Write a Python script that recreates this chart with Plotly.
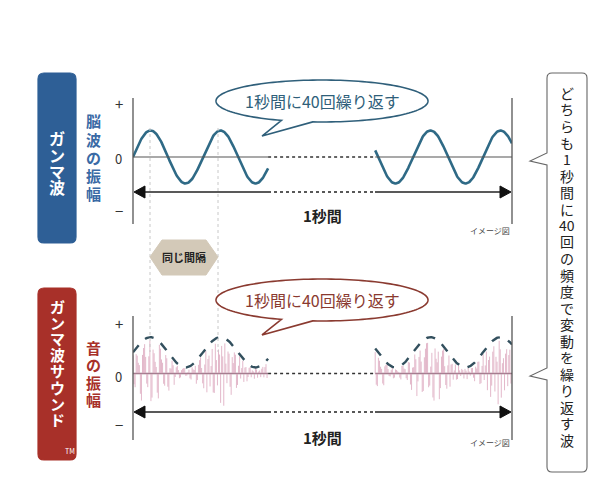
import numpy as np
import plotly.graph_objects as go

W, H = 615, 503
FONT = "Noto Sans CJK JP"

# ---- data ----
seg1 = [0.0, 1.93]          # cycles shown before the gap
seg2 = [3.46, 5.414]        # cycles shown after the gap
brain_amp = 0.5
env_mid, env_amp = 0.42, 0.30
spikes_a = [0.9,-0.6,0.7,0.3,-0.9,0.8,0.5,-0.4,0.95,-0.7,0.6,0.2,-0.8,0.85,0.4,-0.5,0.7,-0.9,0.3,0.6,
            -0.3,0.8,-0.6,0.5,0.9,-0.4,0.2,-0.7,0.75,0.35,-0.85,0.6,0.95,-0.5,0.4,-0.75,0.65,0.25,-0.6,0.9,
            -0.35,0.55,0.8,-0.95,0.3,0.7,-0.45,0.6,0.85,-0.65,0.4,-0.3,0.9,0.5,-0.8,0.7,-0.55,0.35,0.95,-0.7,
            0.45,0.6,-0.4,0.8]
spikes_b = [-0.5,0.8,0.4,-0.7,0.6,0.9,-0.3,0.5,-0.8,0.7,0.35,-0.6,0.95,0.5,-0.4,0.8,-0.65,0.3,0.85,-0.9,
            0.6,0.4,-0.55,0.75,0.9,-0.35,0.6,-0.8,0.45,0.7,-0.5,0.85,0.3,-0.7,0.95,0.55,-0.45,0.8,-0.6,0.4,
            0.7,-0.85,0.5,0.9,-0.3,0.65,-0.75,0.4,0.8,-0.55,0.95,0.35,-0.65,0.6,-0.4,0.85,0.5,-0.9,0.7,0.3,
            -0.5,0.75,0.6,-0.35]
tick_labels = ["+", "0", "−"]
side_text = ["ど","ち","ら","も","1","秒","間","に","40","回","の","頻","度","で","変","動","を","繰","り","返","す","波"]

def px(x): return x / W
def py(y): return 1 - y / H
def P(x, y): return f"{px(x):.5f},{py(y):.5f}"

fig = go.Figure()
XD = [px(133), px(512)]
XR = [0, 5.414]

for s in (seg1, seg2):
    t = np.linspace(s[0], s[1], 200)
    fig.add_trace(go.Scatter(x=t, y=brain_amp*np.sin(2*np.pi*t), mode="lines",
                             line=dict(color="#2f6a86", width=2.6), xaxis="x", yaxis="y"))
    fig.add_trace(go.Scatter(x=s, y=[0, 0], mode="lines", line=dict(color="#555", width=1.2),
                             xaxis="x", yaxis="y"))
    fig.add_trace(go.Scatter(x=s, y=[0, 0], mode="lines", line=dict(color="#8a6a7a", width=1.4),
                             xaxis="x2", yaxis="y2"))
for s in (seg1, seg2):
    for sp, off in ((spikes_a, 0.0), (spikes_b, 0.5)):
        n = len(sp)
        ts = s[0] + (np.arange(n) + off) * (s[1] - s[0]) / n
        xs, ys = [], []
        for t, r in zip(ts, sp):
            e = env_mid + env_amp*np.sin(2*np.pi*t)
            xs += [t, t, None]; ys += [0, 0.95*e*r, None]
        fig.add_trace(go.Scatter(x=xs, y=ys, mode="lines", line=dict(color="#dca6bc", width=0.8),
                                 xaxis="x2", yaxis="y2"))
for s in (seg1, seg2):
    t = np.linspace(s[0], s[1], 200)
    fig.add_trace(go.Scatter(x=t, y=env_mid+env_amp*np.sin(2*np.pi*t), mode="lines",
                             line=dict(color="#33505e", width=2.4, dash="dash"), xaxis="x2", yaxis="y2"))
for ax, ya in (("x", "y"), ("x2", "y2")):
    fig.add_trace(go.Scatter(x=[seg1[1], seg2[0]], y=[0, 0], mode="lines",
                             line=dict(color="#333", width=1.5, dash="dot"), xaxis=ax, yaxis=ya))

shapes, ann = [], []
def line(x0, y0, x1, y1, color="#444", w=1.2, dash="solid"):
    shapes.append(dict(type="line", xref="paper", yref="paper", x0=px(x0), y0=py(y0), x1=px(x1), y1=py(y1),
                       line=dict(color=color, width=w, dash=dash)))
def path(d, fill="rgba(0,0,0,0)", color="#444", w=1.2):
    shapes.append(dict(type="path", xref="paper", yref="paper", path=d, fillcolor=fill, line=dict(color=color, width=w)))
def text(x, y, s, size=12, color="#222", bold=False, xanchor="center"):
    ann.append(dict(x=px(x), y=py(y), xref="paper", yref="paper", text=f"<b>{s}</b>" if bold else s,
                    showarrow=False, font=dict(family=FONT, size=size, color=color), xanchor=xanchor, yanchor="middle"))
def vtext(x, y0, step, chars, size, color, bold=False):
    for i, c in enumerate(chars):
        text(x, y0 + i*step, c, size, color, bold)
def rrect(x0, y0, x1, y1, r, fill, color=None, w=1.2):
    d = (f"M{P(x0+r,y0)} L{P(x1-r,y0)} Q{P(x1,y0)} {P(x1,y0+r)} L{P(x1,y1-r)} Q{P(x1,y1)} {P(x1-r,y1)} "
         f"L{P(x0+r,y1)} Q{P(x0,y1)} {P(x0,y1-r)} L{P(x0,y0+r)} Q{P(x0,y0)} {P(x0+r,y0)} Z")
    path(d, fill, color or fill, w)

for gx in (150, 218):
    line(gx, 128, gx, 352, "#c8c8c8", 1, "dot")

for (top, bot, arr_y, lab_y, img_y) in ((98, 224, 192, 216, 230), (316, 440, 412, 437, 442)):
    line(133, top, 133, bot, "#555", 1.3)
    line(512, top, 512, bot, "#555", 1.3)
    line(143, arr_y, 268, arr_y, "#222", 1.5)
    line(375, arr_y, 502, arr_y, "#222", 1.5)
    line(268, arr_y, 375, arr_y, "#222", 1.5, "dot")
    path(f"M{P(134,arr_y)} L{P(145,arr_y-6)} L{P(145,arr_y+6)} Z", "#111", "#111", 1)
    path(f"M{P(511,arr_y)} L{P(500,arr_y-6)} L{P(500,arr_y+6)} Z", "#111", "#111", 1)
    text(322, lab_y, "<b>1秒間</b>", 15, "#222")
    text(512, img_y, "イメージ図", 8, "#444", xanchor="right")

for (yp, y0, ym) in ((104, 159, 210), (323, 376, 424)):
    for yy, t in zip((yp, y0, ym), tick_labels):
        text(119, yy, t, 15 if t != "0" else 13, "#333")

rrect(38, 73, 76, 243, 6, "#2e5f96")
rrect(38, 288, 76, 460, 6, "#a83029")
vtext(57, 138, 16.5, "ガンマ波", 16, "white", True)
vtext(57, 306, 16.2, "ガンマ波サウンド", 15, "white", True)
text(70, 451, "TM", 7, "white")
vtext(93, 121, 18, "脳波の振幅", 15, "#3a6aa5", True)
vtext(93, 347, 17.5, "音の振幅", 15, "#a83029", True)

path(f"M{P(150,257)} L{P(162,240)} L{P(206,240)} L{P(218,257)} L{P(206,275)} L{P(162,275)} Z",
     "#d3c9b8", "#d3c9b8", 1)
text(184, 257, "同じ間隔", 11, "#222", bold=True)

def bubble(cx, cy, rx, ry, tip, color):
    a = np.linspace(0, 2*np.pi, 145)
    out, inserted = [], False
    for ang in a:
        deg = np.degrees(ang) % 360
        if 95 < deg < 112:
            if not inserted:
                out.append(tip); inserted = True
            continue
        out.append((cx + rx*np.cos(ang), cy + ry*np.sin(ang)))
    d = "M" + " L".join(P(x, y) for x, y in out) + " Z"
    path(d, "white", color, 1.6)
bubble(322, 101, 106, 21, (262, 136), "#2f5f7a")
text(322, 101, "1秒間に40回繰り返す", 16, "#2f5f7a")
bubble(322, 300, 106, 21, (262, 335), "#8a3a30")
text(322, 300, "1秒間に40回繰り返す", 16, "#8a3a30")

xl, xr, yt, yb, r = 547, 587, 73, 472, 5
d = (f"M{P(xl+r,yt)} L{P(xr-r,yt)} Q{P(xr,yt)} {P(xr,yt+r)} L{P(xr,yb-r)} Q{P(xr,yb)} {P(xr-r,yb)} "
     f"L{P(xl+r,yb)} Q{P(xl,yb)} {P(xl,yb-r)} L{P(xl,380)} L{P(530,376)} L{P(xl,368)} "
     f"L{P(xl,165)} L{P(530,161)} L{P(xl,153)} L{P(xl,yt+r)} Q{P(xl,yt)} {P(xl+r,yt)} Z")
path(d, "white", "#666", 1.1)
vtext(567, 93, 16.5, side_text, 14, "#222")

fig.update_layout(
    width=W, height=H, margin=dict(l=0, r=0, t=0, b=0), showlegend=False,
    paper_bgcolor="white", plot_bgcolor="rgba(0,0,0,0)",
    xaxis=dict(domain=XD, range=XR, visible=False),
    yaxis=dict(domain=[py(210), py(104)], range=[-1, 1], visible=False),
    xaxis2=dict(domain=XD, range=XR, visible=False, anchor="y2"),
    yaxis2=dict(domain=[py(424), py(323)], range=[-1, 1], visible=False, anchor="x2"),
    shapes=shapes, annotations=ann,
)
fig.write_html("out.html", config={"displayModeBar": False})
with open("out.html", encoding="utf-8") as f:
    html = f.read()
html = html.replace("<head>", "<head><style>html,body{margin:0;padding:0;overflow:hidden;}</style>", 1)
with open("out.html", "w", encoding="utf-8") as f:
    f.write(html)
